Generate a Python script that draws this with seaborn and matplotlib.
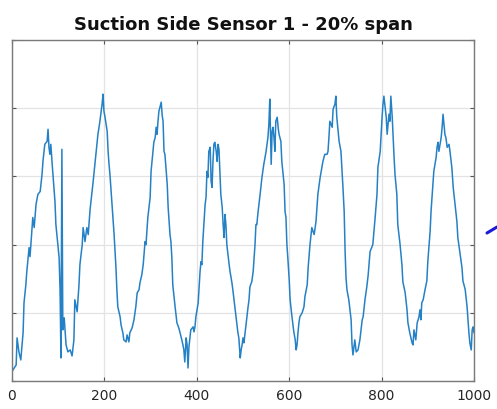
import numpy as np
import pandas as pd
import matplotlib
matplotlib.use("Agg")
import matplotlib.pyplot as plt
from matplotlib.lines import Line2D
import seaborn as sns

# Sample index and sensor reading (arbitrary units) for suction side sensor 1
sample = [
    0, 2, 9, 11, 15, 19, 24, 26, 30, 32, 37, 39, 45, 48, 52, 56, 61, 65, 67, 71,
    76, 78, 80, 82, 84, 87, 93, 95, 102, 104, 106, 108, 110, 113, 117, 121, 126, 130, 134, 136,
    141, 145, 147, 152, 154, 158, 162, 165, 169, 175, 180, 182, 186, 190, 195, 197, 199, 201, 206, 208,
    210, 212, 216, 221, 225, 227, 229, 234, 236, 240, 242, 247, 249, 253, 255, 260, 264, 268, 271, 275,
    277, 281, 284, 288, 290, 294, 299, 301, 305, 307, 310, 312, 314, 316, 318, 323, 325, 327, 329, 331,
    336, 338, 342, 344, 346, 348, 353, 357, 361, 366, 370, 372, 374, 377, 379, 381, 383, 387, 392, 394,
    396, 398, 403, 405, 407, 409, 411, 413, 418, 420, 422, 424, 426, 429, 431, 433, 435, 437, 439, 442,
    444, 446, 448, 450, 452, 455, 457, 459, 461, 463, 465, 470, 472, 476, 478, 485, 489, 491, 494, 496,
    498, 500, 502, 506, 509, 511, 513, 515, 519, 522, 526, 528, 530, 532, 537, 541, 545, 550, 552, 554,
    556, 558, 561, 563, 565, 567, 569, 571, 574, 576, 578, 582, 584, 589, 591, 593, 595, 597, 600, 602,
    606, 610, 613, 615, 617, 619, 621, 623, 628, 632, 634, 639, 641, 645, 649, 654, 658, 662, 667, 673,
    677, 682, 684, 686, 688, 693, 695, 699, 701, 703, 708, 712, 716, 719, 721, 723, 725, 729, 734, 736,
    738, 742, 745, 749, 753, 758, 760, 764, 768, 771, 775, 781, 786, 790, 792, 797, 801, 803, 805, 810,
    812, 814, 816, 818, 820, 823, 825, 827, 829, 833, 835, 840, 844, 846, 851, 855, 857, 861, 866, 868,
    870, 874, 877, 881, 883, 885, 887, 890, 894, 898, 900, 905, 907, 911, 913, 918, 920, 922, 924, 929,
    931, 933, 937, 939, 942, 946, 948, 952, 955, 959, 963, 965, 970, 974, 976, 981, 985, 987, 989, 991,
    994, 996, 998, 1000,
]
reading = [
    9, 11, 16, 43, 29, 21, 48, 78, 96, 109, 133, 124, 163, 153, 176, 186, 189, 206, 219, 236,
    239, 251, 233, 226, 236, 216, 179, 156, 123, 91, 23, 231, 51, 63, 36, 29, 31, 25, 41, 81,
    69, 96, 116, 136, 153, 139, 153, 146, 171, 196, 219, 229, 246, 258, 276, 286, 269, 264, 249, 229,
    216, 206, 179, 146, 113, 91, 74, 64, 56, 48, 41, 39, 46, 39, 48, 53, 61, 74, 88, 91,
    98, 106, 116, 139, 136, 163, 183, 209, 229, 238, 243, 253, 246, 259, 269, 278, 265, 259, 229, 226,
    196, 173, 146, 139, 123, 96, 74, 58, 53, 44, 36, 31, 19, 43, 36, 13, 34, 51, 54, 49,
    54, 64, 78, 94, 109, 119, 116, 139, 176, 183, 209, 203, 229, 233, 199, 193, 219, 236, 238, 229,
    219, 236, 231, 209, 186, 173, 156, 143, 166, 156, 136, 116, 109, 98, 91, 64, 48, 43, 23, 31,
    36, 43, 38, 54, 66, 74, 81, 94, 99, 109, 136, 156, 156, 166, 186, 203, 216, 229, 236, 243,
    256, 281, 216, 249, 253, 243, 229, 259, 263, 253, 246, 239, 219, 196, 169, 163, 136, 123, 101, 81,
    64, 49, 41, 31, 36, 48, 58, 64, 68, 74, 84, 96, 113, 136, 153, 146, 159, 186, 203, 219,
    226, 226, 229, 243, 259, 253, 271, 276, 284, 263, 239, 229, 196, 169, 129, 103, 91, 81, 61, 36,
    26, 41, 29, 31, 41, 61, 64, 81, 94, 106, 129, 136, 163, 186, 213, 229, 263, 276, 284, 263,
    246, 256, 266, 259, 284, 263, 243, 223, 206, 186, 156, 136, 116, 99, 88, 71, 58, 48, 38, 36,
    51, 41, 58, 64, 71, 61, 78, 81, 91, 100, 119, 149, 169, 196, 209, 223, 233, 238, 229, 243,
    253, 266, 246, 243, 233, 236, 229, 213, 193, 176, 159, 143, 126, 113, 100, 91, 74, 61, 48, 38,
    31, 51, 54, 48,
]

x_ticks = [0, 200, 400, 600, 800, 1000]
y_ticks = [0, 68, 136, 204, 272, 340]
title = "Suction Side Sensor 1 - 20% span"

df = pd.DataFrame({"sample": sample, "reading": reading})

sns.set_style("white")
plt.rcParams["font.family"] = ["DejaVu Sans"]

fig = plt.figure(figsize=(4.97, 4.09), dpi=100)
ax = fig.add_axes([12 / 497, 1 - 381 / 409, 462 / 497, 341 / 409])

sns.lineplot(data=df, x="sample", y="reading", ax=ax, color="#2581c6",
             linewidth=1.1, estimator=None, sort=False)

ax.set_xlim(0, 1000)
ax.set_ylim(0, 340)
ax.set_xticks(x_ticks)
ax.set_xticklabels([str(t) for t in x_ticks], fontsize=10, color="#262626")
ax.set_yticks(y_ticks)
ax.set_yticklabels([])
ax.set_xlabel("")
ax.set_ylabel("")
ax.grid(True, color="#e3e3e3", linewidth=0.9)
ax.set_axisbelow(True)
ax.tick_params(direction="in", length=3, width=0.8, color="#555555",
               top=True, right=True, bottom=True, left=True, pad=6)
for side in ax.spines.values():
    side.set_color("#7a7a7a")
    side.set_linewidth(1.0)

fig.text(0.489, 1 - 25 / 409, title, ha="center", va="center",
         fontsize=13, fontweight="bold", color="#111111")

# arrow stub pointing into the plot from the right margin
fig.add_artist(Line2D([487 / 497, 1.0], [1 - 233 / 409, 1 - 227 / 409],
                      transform=fig.transFigure, color="#1a1ad8", linewidth=2.2))

fig.savefig("out.png", dpi=100)
